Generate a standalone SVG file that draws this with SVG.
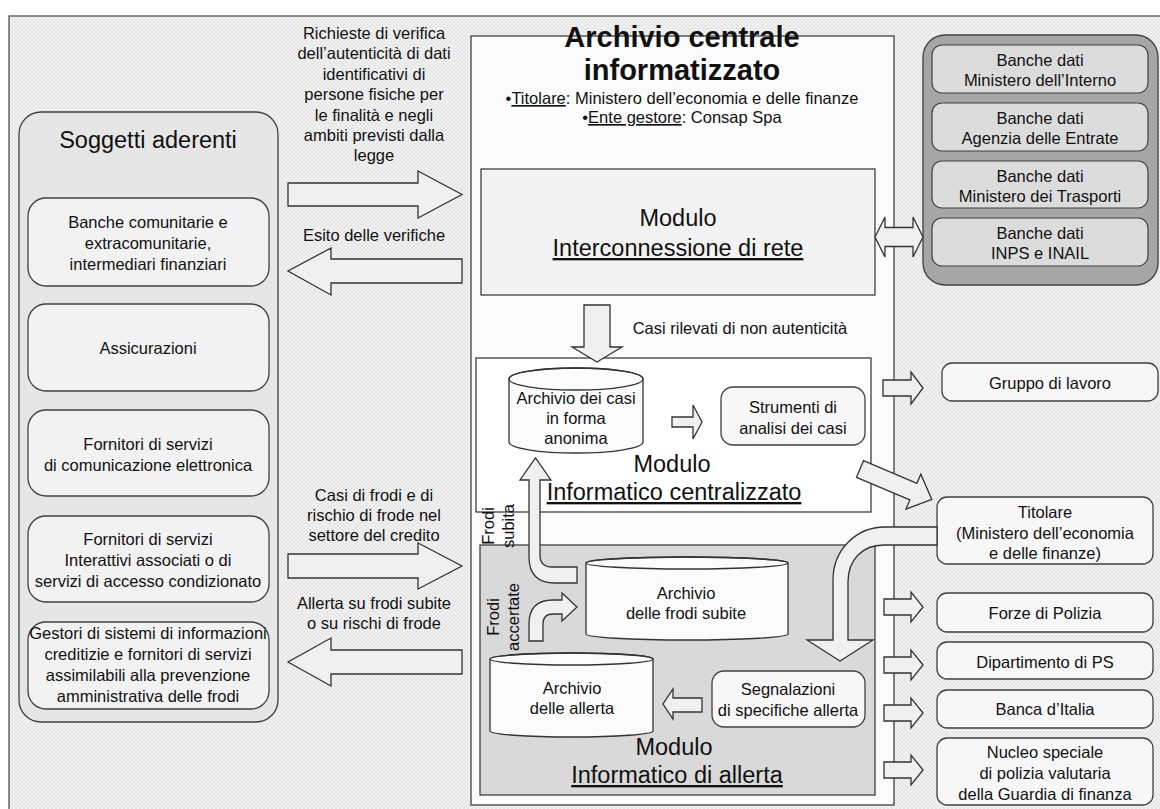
<svg xmlns="http://www.w3.org/2000/svg" width="1160" height="809" viewBox="0 0 1160 809">
<style>
text{font-family:"Liberation Sans",Arial,sans-serif;fill:#111;}
.t{font-size:16.5px;text-anchor:middle;}
.m{font-size:23.5px;text-anchor:middle;}
.u{text-decoration:underline;}
.ttl{font-size:29px;font-weight:bold;text-anchor:middle;}
.box{fill:#f2f2f2;stroke:#404040;stroke-width:1.3;}
.wbox{fill:#f7f7f7;stroke:#404040;stroke-width:1.3;}
.arr{fill:#f0f0f0;stroke:#333;stroke-width:1.3;stroke-linejoin:miter;}
.cyl{fill:#fbfbfb;stroke:#333;stroke-width:1.3;}
</style>
<defs>
<pattern id="bg" width="4" height="4" patternUnits="userSpaceOnUse">
<rect width="4" height="4" fill="#f3f3f3"/>
<path d="M0,0 L4,4 M4,0 L0,4" stroke="#dadada" stroke-width="0.6"/>
</pattern>
</defs>
<rect width="1160" height="809" fill="#ffffff"/>
<rect x="9" y="16" width="1160" height="800" fill="url(#bg)" stroke="#505050" stroke-width="1.3"/>

<g id="soggetti">
<rect x="19" y="112" width="259" height="610" rx="22" fill="#e6e6e6" stroke="#404040" stroke-width="1.3"/>
<text class="m" x="148" y="148">Soggetti aderenti</text>
</g>
<g id="banche-comunitarie">
<rect class="box" x="28" y="198" width="241" height="88" rx="18"/>
<text class="t" x="148" y="228">Banche comunitarie e</text>
<text class="t" x="148" y="249">extracomunitarie,</text>
<text class="t" x="148" y="270">intermediari finanziari</text>
</g>
<g id="assicurazioni">
<rect class="box" x="28" y="304" width="241" height="87" rx="18"/>
<text class="t" x="148" y="354">Assicurazioni</text>
</g>
<g id="fornitori-comunicazione">
<rect class="box" x="28" y="410" width="241" height="86" rx="18"/>
<text class="t" x="148" y="450">Fornitori di servizi</text>
<text class="t" x="148" y="471">di comunicazione elettronica</text>
</g>
<g id="fornitori-interattivi">
<rect class="box" x="28" y="516" width="241" height="86" rx="18"/>
<text class="t" x="148" y="545">Fornitori di servizi</text>
<text class="t" x="148" y="566">Interattivi associati o di</text>
<text class="t" x="148" y="587">servizi di accesso condizionato</text>
</g>
<g id="gestori">
<rect class="box" x="28" y="622" width="241" height="87" rx="18"/>
<text class="t" x="148" y="639">Gestori di sistemi di informazioni</text>
<text class="t" x="148" y="660">creditizie e fornitori di servizi</text>
<text class="t" x="148" y="681">assimilabili alla prevenzione</text>
<text class="t" x="148" y="702">amministrativa delle frodi</text>
</g>

<g id="archivio-centrale">
<rect x="471" y="36" width="423" height="769" fill="#fbfbfb" stroke="#404040" stroke-width="1.3"/>
<text class="ttl" x="682" y="47">Archivio centrale</text>
<text class="ttl" x="682" y="80">informatizzato</text>
<text class="t" x="682" y="104">•<tspan class="u">Titolare</tspan>: Ministero dell’economia e delle finanze</text>
<text class="t" x="682" y="123">•<tspan class="u">Ente gestore</tspan>: Consap Spa</text>
</g>
<g id="modulo-interconnessione">
<rect x="481" y="169" width="394" height="126" fill="#f2f2f2" stroke="#404040" stroke-width="1.3"/>
<text class="m" x="678" y="226">Modulo</text>
<text class="m" x="678" y="256"><tspan class="u">Interconnessione di rete</tspan></text>
</g>
<g id="modulo-centralizzato">
<rect x="476" y="358" width="395" height="154" fill="#ffffff" stroke="#404040" stroke-width="1.3"/>
<text class="m" x="672" y="472">Modulo</text>
<text class="m" x="674" y="500"><tspan class="u">Informatico centralizzato</tspan></text>
</g>
<g id="archivio-casi">
<path class="cyl" d="M509,379 A67,11 0 0 1 643,379 L643,442 A67,11 0 0 1 509,442 Z"/>
<ellipse cx="576" cy="379" rx="67" ry="11" fill="none" stroke="#333" stroke-width="1.3"/>
<text class="t" x="576" y="404">Archivio dei casi</text>
<text class="t" x="576" y="424">in forma</text>
<text class="t" x="576" y="444">anonima</text>
</g>
<g id="strumenti">
<rect class="wbox" x="721" y="387" width="144" height="58" rx="12" fill="#ffffff"/>
<text class="t" x="793" y="413">Strumenti di</text>
<text class="t" x="793" y="434">analisi dei casi</text>
</g>
<g id="modulo-allerta">
<rect x="480" y="545" width="395" height="250" fill="#d9d9d9" stroke="#404040" stroke-width="1.3"/>
<text class="m" x="674" y="755">Modulo</text>
<text class="m" x="677" y="783"><tspan class="u">Informatico di allerta</tspan></text>
</g>
<g id="archivio-frodi">
<path class="cyl" d="M586,563 A101,6 0 0 1 788,563 L788,634 A101,6 0 0 1 586,634 Z"/>
<ellipse cx="687" cy="563" rx="101" ry="6" fill="none" stroke="#333" stroke-width="1.3"/>
<text class="t" x="686" y="599">Archivio</text>
<text class="t" x="686" y="619">delle frodi subite</text>
</g>
<g id="archivio-allerta">
<path class="cyl" d="M490,659 A81.5,6 0 0 1 653,659 L653,731 A81.5,6 0 0 1 490,731 Z"/>
<ellipse cx="571.5" cy="659" rx="81.5" ry="6" fill="none" stroke="#333" stroke-width="1.3"/>
<text class="t" x="572" y="694">Archivio</text>
<text class="t" x="572" y="714">delle allerta</text>
</g>
<g id="segnalazioni">
<rect class="wbox" x="712" y="671" width="153" height="56" rx="12"/>
<text class="t" x="788" y="695">Segnalazioni</text>
<text class="t" x="788" y="716">di specifiche allerta</text>
</g>

<g id="banche-dati">
<rect x="923" y="35" width="235" height="250" rx="22" fill="#a6a6a6" stroke="#404040" stroke-width="1.3"/>
<rect x="932" y="45" width="216" height="48" rx="10" fill="#dcdcdc" stroke="#404040" stroke-width="1.2"/>
<text class="t" x="1040" y="66">Banche dati</text>
<text class="t" x="1040" y="86">Ministero dell’Interno</text>
<rect x="932" y="103" width="216" height="48" rx="10" fill="#dcdcdc" stroke="#404040" stroke-width="1.2"/>
<text class="t" x="1040" y="124">Banche dati</text>
<text class="t" x="1040" y="144">Agenzia delle Entrate</text>
<rect x="932" y="161" width="216" height="47" rx="10" fill="#dcdcdc" stroke="#404040" stroke-width="1.2"/>
<text class="t" x="1040" y="182">Banche dati</text>
<text class="t" x="1040" y="202">Ministero dei Trasporti</text>
<rect x="932" y="218" width="216" height="48" rx="10" fill="#dcdcdc" stroke="#404040" stroke-width="1.2"/>
<text class="t" x="1040" y="239">Banche dati</text>
<text class="t" x="1040" y="259">INPS e INAIL</text>
</g>
<g id="gruppo-lavoro">
<rect class="wbox" x="942" y="363" width="216" height="38" rx="10"/>
<text class="t" x="1050" y="389">Gruppo di lavoro</text>
</g>
<g id="titolare">
<rect class="wbox" x="937" y="497" width="216" height="67" rx="10"/>
<text class="t" x="1045" y="518">Titolare</text>
<text class="t" x="1045" y="539">(Ministero dell’economia</text>
<text class="t" x="1045" y="559">e delle finanze)</text>
</g>
<g id="forze-polizia">
<rect class="wbox" x="937" y="593" width="216" height="39" rx="10"/>
<text class="t" x="1045" y="619">Forze di Polizia</text>
</g>
<g id="dipartimento-ps">
<rect class="wbox" x="937" y="642" width="216" height="37" rx="10"/>
<text class="t" x="1045" y="668">Dipartimento di PS</text>
</g>
<g id="banca-italia">
<rect class="wbox" x="937" y="690" width="216" height="38" rx="10"/>
<text class="t" x="1045" y="715">Banca d’Italia</text>
</g>
<g id="nucleo-speciale">
<rect class="wbox" x="937" y="738" width="216" height="67" rx="10"/>
<text class="t" x="1045" y="758">Nucleo speciale</text>
<text class="t" x="1045" y="779">di polizia valutaria</text>
<text class="t" x="1045" y="800">della Guardia di finanza</text>
</g>

<g id="connectors">
<polygon class="arr" points="288,183 418,183 418,171 462,194.5 418,218 418,206 288,206"/>
<polygon class="arr" points="462,259 331,259 331,248 288,271 331,295 331,283 462,283"/>
<polygon class="arr" points="288,554 418,554 418,543 462,566 418,589 418,578 288,578"/>
<polygon class="arr" points="462,650 331,650 331,638 288,662 331,686 331,674 462,674"/>
<polygon class="arr" points="875,237 885,217 885,227.5 913,227.5 913,217 923,237 913,257 913,246.5 885,246.5 885,257"/>
<polygon class="arr" points="584,305 610,305 610,347 622,347 597,362 572,347 584,347"/>
<polygon class="arr" points="672,417 693,417 693,405 702,422 693,439 693,427 672,427"/>
<polygon class="arr" points="883,380 911,380 911,372 923,388 911,404 911,396 883,396"/>
<polygon class="arr" transform="translate(860,469) rotate(23)" points="0,-9 58,-9 58,-19 78,0 58,19 58,9 0,9"/>
<polygon class="arr" points="884,599 911,599 911,592 923,607 911,622 911,615 884,615"/>
<polygon class="arr" points="884,657 911,657 911,650 923,665 911,680 911,673 884,673"/>
<polygon class="arr" points="884,705 911,705 911,698 923,713 911,728 911,721 884,721"/>
<polygon class="arr" points="884,762 911,762 911,755 923,770 911,785 911,778 884,778"/>
<polygon class="arr" points="702,698 673,698 673,689 663,704 673,719 673,712 702,712"/>
<path class="arr" d="M529,480 L520,480 L535.5,458 L551,480 L540,480 L540,555 Q540,567 552,567 L577,567 L577,583 L555,583 Q529,583 529,557 Z"/>
<path class="arr" d="M529,641 L529,624 Q529,600 553,600 L562,600 L562,593 L577,607 L562,621 L562,614 L553,614 Q543,614 543,624 L543,641 Z"/>
<path class="arr" d="M937,527 L885,527 C856,527 833,550 833,580 L833,640 L807,640 L840,661 L873,640 L848,640 L848,582 C848,560 862,545 884,545 L937,545 Z"/>
<text class="t" x="374" y="39">Richieste di verifica</text>
<text class="t" x="374" y="59">dell’autenticità di dati</text>
<text class="t" x="374" y="80">identificativi di</text>
<text class="t" x="374" y="100">persone fisiche per</text>
<text class="t" x="374" y="121">le finalità e negli</text>
<text class="t" x="374" y="141">ambiti previsti dalla</text>
<text class="t" x="374" y="161">legge</text>
<text class="t" x="374" y="241">Esito delle verifiche</text>
<text class="t" x="740" y="334">Casi rilevati di non autenticità</text>
<text class="t" x="374" y="501">Casi di frodi e di</text>
<text class="t" x="374" y="521">rischio di frode nel</text>
<text class="t" x="374" y="541">settore del credito</text>
<text class="t" x="374" y="609">Allerta su frodi subite</text>
<text class="t" x="374" y="629">o su rischi di frode</text>
<text class="t" transform="translate(494,526) rotate(-90)">Frodi</text>
<text class="t" transform="translate(514,526) rotate(-90)">subita</text>
<text class="t" transform="translate(499,617) rotate(-90)">Frodi</text>
<text class="t" transform="translate(519,617) rotate(-90)">accertate</text>
</g>
</svg>
